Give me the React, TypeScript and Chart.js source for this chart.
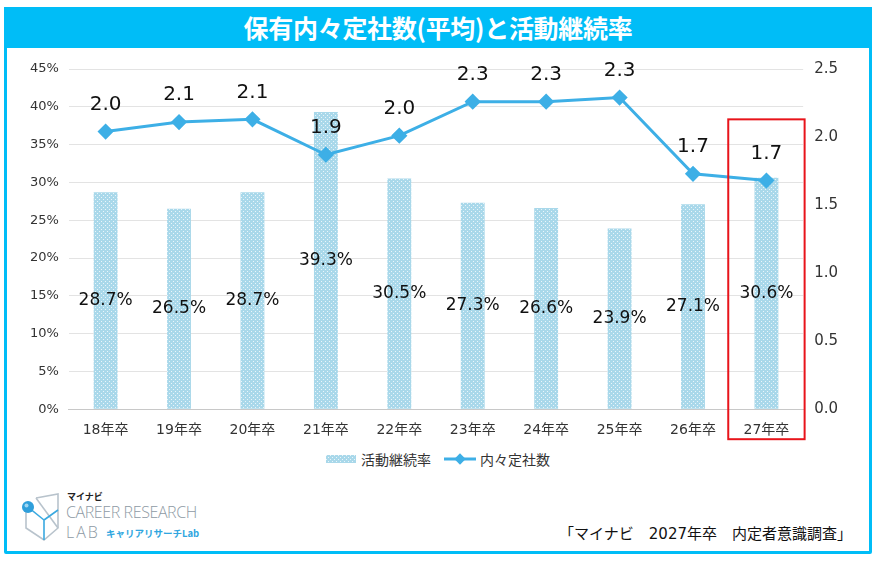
import React, { useEffect, useRef } from "react";
import { Chart, registerables } from "chart.js";
Chart.register(...registerables);

const categories = ["18年卒", "19年卒", "20年卒", "21年卒", "22年卒", "23年卒", "24年卒", "25年卒", "26年卒", "27年卒"];
const continuationRates = [28.7, 26.5, 28.7, 39.3, 30.5, 27.3, 26.6, 23.9, 27.1, 30.6];
const offerCounts = [2.04, 2.11, 2.13, 1.87, 2.01, 2.26, 2.26, 2.29, 1.73, 1.68];
const offerLabels = ["2.0", "2.1", "2.1", "1.9", "2.0", "2.3", "2.3", "2.3", "1.7", "1.7"];
const rateLabels = ["28.7%", "26.5%", "28.7%", "39.3%", "30.5%", "27.3%", "26.6%", "23.9%", "27.1%", "30.6%"];
const highlightIndex = 9;

const TITLE = "保有内々定社数(平均)と活動継続率";
const SERIES_BAR = "活動継続率";
const SERIES_LINE = "内々定社数";
const SOURCE = "「マイナビ　2027年卒　内定者意識調査」";

const CYAN = "#00BDF7";
const LINE_COLOR = "#3DAFE6";
const FONT = "'DejaVu Sans', 'Noto Sans CJK JP', sans-serif";
const CJK = "'Noto Sans CJK JP', 'Noto Sans', sans-serif";

function makePattern(): CanvasPattern | string {
  const c = document.createElement("canvas");
  c.width = 4;
  c.height = 4;
  const g = c.getContext("2d");
  if (!g) return "#B2DCEC";
  g.fillStyle = "#A9D8EA";
  g.fillRect(0, 0, 4, 4);
  g.fillStyle = "rgba(255,255,255,0.75)";
  g.fillRect(0, 0, 1, 1);
  g.fillRect(2, 2, 1, 1);
  const p = g.createPattern(c, "repeat");
  return p || "#B2DCEC";
}

const labelPlugin = {
  id: "valueLabels",
  afterDatasetsDraw(chart: any) {
    const ctx = chart.ctx;
    ctx.save();
    ctx.textAlign = "center";
    ctx.textBaseline = "middle";
    ctx.fillStyle = "#111";
    const barMeta = chart.getDatasetMeta(0);
    ctx.font = `17px ${FONT}`;
    barMeta.data.forEach((bar: any, i: number) => {
      ctx.fillText(rateLabels[i], bar.x, (bar.y + bar.base) / 2);
    });
    const lineMeta = chart.getDatasetMeta(1);
    ctx.font = `20px ${FONT}`;
    lineMeta.data.forEach((pt: any, i: number) => {
      ctx.fillText(offerLabels[i], pt.x, pt.y - 27);
    });
    ctx.restore();
  },
};

const boxPlugin = {
  id: "highlightBox",
  afterDraw(chart: any) {
    const ctx = chart.ctx;
    const xs = chart.scales.x;
    const y1 = chart.scales.y1;
    const cx = xs.getPixelForValue(highlightIndex);
    const half = (xs.getPixelForValue(1) - xs.getPixelForValue(0)) * 0.52;
    const top = y1.getPixelForValue(2.13);
    const bottom = chart.chartArea.bottom + 30;
    ctx.save();
    ctx.strokeStyle = "#E8141B";
    ctx.lineWidth = 2;
    ctx.strokeRect(cx - half, top, half * 2, bottom - top);
    ctx.restore();
  },
};

function ChartCanvas() {
  const ref = useRef<HTMLCanvasElement | null>(null);
  useEffect(() => {
    if (!ref.current) return;
    const pattern = makePattern();
    const chart = new Chart(ref.current, {
      type: "bar",
      data: {
        labels: categories,
        datasets: [
          {
            type: "bar",
            label: SERIES_BAR,
            data: continuationRates,
            backgroundColor: pattern as any,
            yAxisID: "y",
            barPercentage: 0.65,
            categoryPercentage: 0.5,
            order: 2,
          },
          {
            type: "line",
            label: SERIES_LINE,
            data: offerCounts,
            borderColor: LINE_COLOR,
            backgroundColor: LINE_COLOR,
            borderWidth: 3,
            pointStyle: "rectRot",
            pointRadius: 6,
            pointBackgroundColor: LINE_COLOR,
            pointBorderColor: LINE_COLOR,
            yAxisID: "y1",
            order: 1,
          } as any,
        ],
      },
      options: {
        responsive: false,
        animation: false,
        layout: { padding: { top: 10, left: 11, right: 18, bottom: 4 } },
        plugins: {
          legend: { display: false },
          tooltip: { enabled: false },
          title: { display: false },
        },
        scales: {
          x: {
            grid: { display: false },
            border: { color: "#C8C8C8" },
            ticks: { color: "#333", font: { family: FONT, size: 14 }, padding: 5 },
          },
          y: {
            position: "left",
            min: 0,
            max: 45,
            ticks: {
              stepSize: 5,
              color: "#333",
              padding: 10,
              font: { family: FONT, size: 13 },
              callback: (v: any) => `${v}%`,
            },
            grid: { color: "#E3E3E3", drawTicks: false },
            border: { display: false },
          },
          y1: {
            position: "right",
            min: 0,
            max: 2.5,
            ticks: {
              stepSize: 0.5,
              color: "#333",
              padding: 11,
              font: { family: FONT, size: 15 },
              callback: (v: any) => Number(v).toFixed(1),
            },
            grid: { display: false, drawTicks: false },
            border: { display: false },
          },
        },
      },
      plugins: [labelPlugin, boxPlugin],
    });
    return () => chart.destroy();
  }, []);
  return <canvas ref={ref} width={858} height={399} style={{ position: "absolute", left: 9, top: 49, width: 858, height: 399 }} />;
}

function BarSwatch() {
  const ref = useRef<HTMLCanvasElement | null>(null);
  useEffect(() => {
    const c = ref.current;
    if (!c) return;
    const g = c.getContext("2d");
    if (!g) return;
    g.fillStyle = makePattern() as any;
    g.fillRect(0, 0, c.width, c.height);
  }, []);
  return <canvas ref={ref} width={30} height={8} style={{ width: 30, height: 8, marginRight: 5 }} />;
}

function LineSwatch() {
  return (
    <svg width={32} height={12} style={{ marginRight: 4 }}>
      <line x1={0} y1={6} x2={32} y2={6} stroke={LINE_COLOR} strokeWidth={3} />
      <rect x={12} y={2} width={8} height={8} fill={LINE_COLOR} transform="rotate(45 16 6)" />
    </svg>
  );
}

function Logo() {
  return (
    <div style={{ position: "absolute", left: 20, top: 490, width: 200, height: 55 }}>
      <svg width={44} height={52} style={{ position: "absolute", left: 0, top: 0 }}>
        <polyline points="16,8 38,4 38,38 24,50 6,38 6,22" fill="none" stroke="#B8C3CC" strokeWidth={1.6} />
        <polyline points="16,8 38,38" fill="none" stroke="#B8C3CC" strokeWidth={1.6} />
        <polyline points="24,50 24,30 38,20" fill="none" stroke="#3AA9E0" strokeWidth={1.6} />
        <polyline points="9,18 24,30" fill="none" stroke="#3AA9E0" strokeWidth={1.6} />
        <circle cx={8} cy={17} r={6} fill="#2F9FDB" />
        <circle cx={6.5} cy={15.5} r={2} fill="#9FD6F2" />
      </svg>
      <div style={{ position: "absolute", left: 47, top: 2, fontSize: 9, fontWeight: 700, fontFamily: CJK, color: "#222", lineHeight: "10px" }}>マイナビ</div>
      <div style={{ position: "absolute", left: 46, top: 12, fontSize: 16, fontFamily: "'Open Sans', 'Noto Sans', sans-serif", fontWeight: 300, color: "#8E9AA4", lineHeight: "20px", letterSpacing: -0.4, whiteSpace: "nowrap" }}>CAREER RESEARCH</div>
      <div style={{ position: "absolute", left: 46, top: 32, fontSize: 16, fontFamily: "'Open Sans', 'Noto Sans', sans-serif", fontWeight: 300, color: "#8E9AA4", lineHeight: "20px", letterSpacing: 2 }}>LAB</div>
      <div style={{ position: "absolute", left: 86, top: 37, fontSize: 9.5, fontWeight: 700, fontFamily: CJK, color: "#2FA6E0", lineHeight: "12px", whiteSpace: "nowrap" }}>キャリアリサーチLab</div>
    </div>
  );
}

export default function App() {
  return (
    <div style={{ position: "fixed", left: 0, top: 0, width: 876, height: 562, background: "#fff", overflow: "hidden", fontFamily: CJK }}>
      <div style={{ position: "absolute", left: 4, top: 7, width: 862, height: 541, border: `3px solid ${CYAN}`, borderRadius: 2 }} />
      <div style={{ position: "absolute", left: 4, top: 7, width: 868, height: 41, background: CYAN, color: "#fff", fontSize: 25, fontWeight: 700, textAlign: "center", lineHeight: "41px", letterSpacing: -0.3 }}>
        {TITLE}
      </div>
      <ChartCanvas />
      <div style={{ position: "absolute", left: 0, top: 449, width: 876, display: "flex", justifyContent: "center", alignItems: "center", fontSize: 14, color: "#333" }}>
        <div style={{ display: "flex", alignItems: "center", marginRight: 13, marginLeft: 0 }}>
          <BarSwatch />
          <span>{SERIES_BAR}</span>
        </div>
        <div style={{ display: "flex", alignItems: "center" }}>
          <LineSwatch />
          <span>{SERIES_LINE}</span>
        </div>
      </div>
      <Logo />
      <div style={{ position: "absolute", right: 24, top: 522, fontSize: 15, fontFamily: FONT, color: "#111", whiteSpace: "nowrap" }}>{SOURCE}</div>
    </div>
  );
}
